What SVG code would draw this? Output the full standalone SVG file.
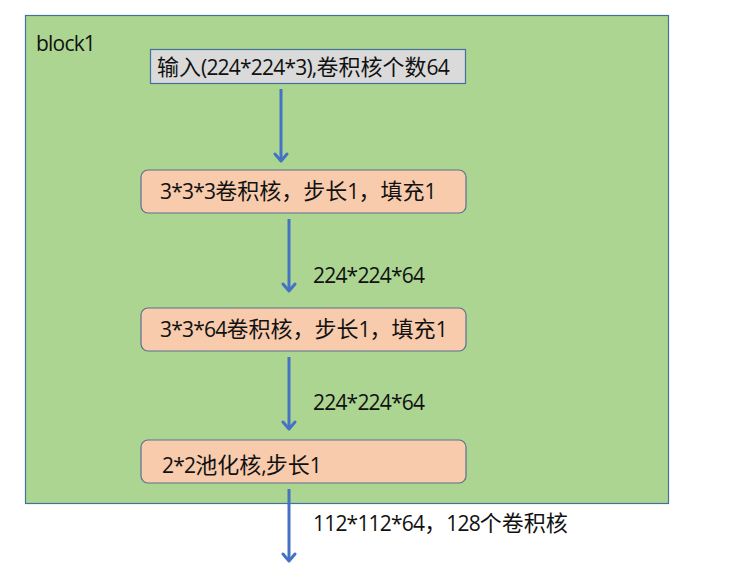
<svg xmlns="http://www.w3.org/2000/svg" width="742" height="566" viewBox="0 0 742 566">
<style>
text{font-family:"Open Sans","Liberation Sans","Noto Sans CJK SC",sans-serif;font-size:21px;letter-spacing:-0.8px;fill:#111}
.c{font-family:"Noto Sans CJK SC",sans-serif;font-size:22px;letter-spacing:0}
.node{fill:#F8CBAD;stroke:#5B7090;stroke-width:1.2}
.conn{stroke:#4472C4;stroke-width:3;fill:none}
.head{stroke:#4472C4;stroke-width:3;fill:none;stroke-linecap:round;stroke-linejoin:round}
</style>
<rect width="742" height="566" fill="#fff"/>
<g id="block1">
<rect x="25.5" y="15.5" width="643" height="488" fill="#ABD591" stroke="#41719C" stroke-width="1.2"/>
<text x="36" y="51">block1</text>
</g>
<g id="input">
<rect x="150.5" y="49.5" width="315" height="34" fill="#DADADA" stroke="#41719C" stroke-width="1.2"/>
<text x="157" y="75"><tspan class="c">输入</tspan>(224*224*3),<tspan class="c">卷积核个数</tspan>64</text>
</g>
<g id="conv1">
<rect class="node" x="141" y="170" width="325" height="43" rx="7"/>
<text x="160" y="199">3*3*3<tspan class="c">卷积核，步长</tspan>1<tspan class="c">，填充</tspan>1</text>
</g>
<g id="conv2">
<rect class="node" x="141" y="308" width="325" height="43" rx="7"/>
<text x="160" y="337">3*3*64<tspan class="c">卷积核，步长</tspan>1<tspan class="c">，填充</tspan>1</text>
</g>
<g id="pool">
<rect class="node" x="141" y="440" width="325" height="43" rx="7"/>
<text x="162" y="473">2*2<tspan class="c">池化核</tspan>,<tspan class="c">步长</tspan>1</text>
</g>
<g id="connectors">
<line class="conn" x1="281" y1="89" x2="281" y2="161"/>
<polyline class="head" points="275,154 281,161 287,154"/>
<line class="conn" x1="289" y1="219" x2="289" y2="291"/>
<polyline class="head" points="283,284 289,291 295,284"/>
<line class="conn" x1="289" y1="357" x2="289" y2="429"/>
<polyline class="head" points="283,422 289,429 295,422"/>
<line class="conn" x1="289" y1="489" x2="289" y2="561"/>
<polyline class="head" points="283,554 289,561 295,554"/>
<text x="313" y="283">224*224*64</text>
<text x="313" y="410">224*224*64</text>
<text x="313" y="531">112*112*64<tspan class="c">，</tspan>128<tspan class="c">个卷积核</tspan></text>
</g>
</svg>
